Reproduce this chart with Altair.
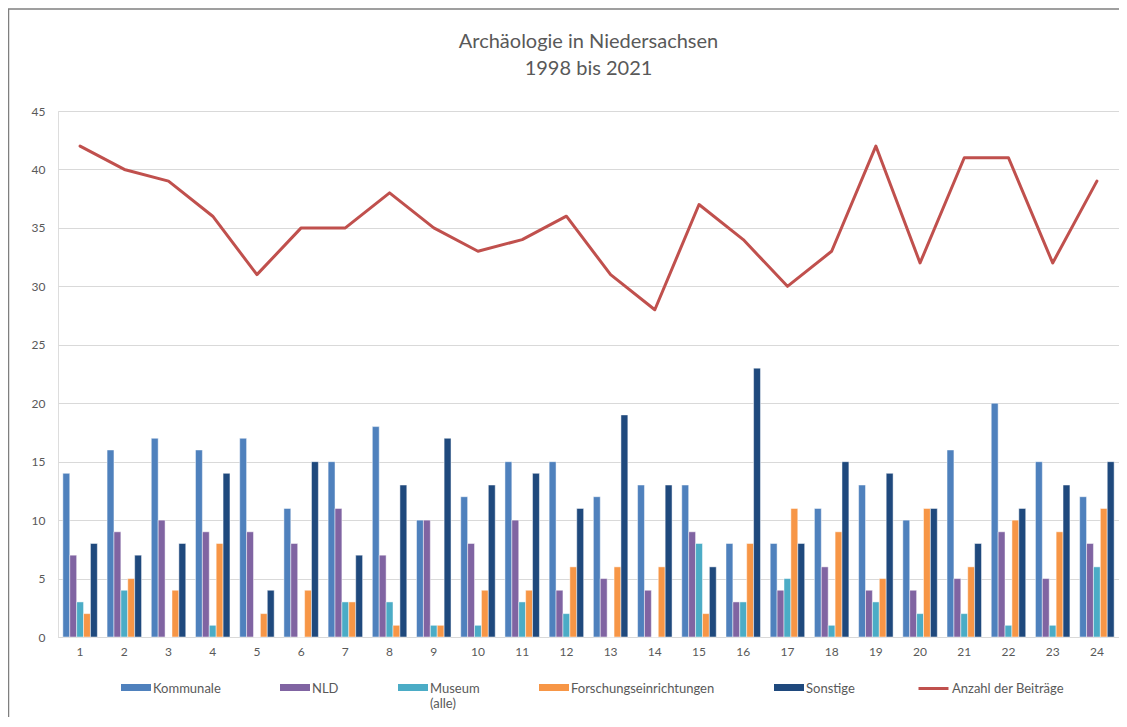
import altair as alt
import pandas as pd

# ---- data ----
jahre = [str(i) for i in range(1, 25)]
serien = ["Kommunale", "NLD", "Museum (alle)", "Forschungseinrichtungen", "Sonstige"]
kommunale = [14, 16, 17, 16, 17, 11, 15, 18, 10, 12, 15, 15, 12, 13, 13, 8, 8, 11, 13, 10, 16, 20, 15, 12]
nld = [7, 9, 10, 9, 9, 8, 11, 7, 10, 8, 10, 4, 5, 4, 9, 3, 4, 6, 4, 4, 5, 9, 5, 8]
museum = [3, 4, 0, 1, 0, 0, 3, 3, 1, 1, 3, 2, 0, 0, 8, 3, 5, 1, 3, 2, 2, 1, 1, 6]
forschung = [2, 5, 4, 8, 2, 4, 3, 1, 1, 4, 4, 6, 6, 6, 2, 8, 11, 9, 5, 11, 6, 10, 9, 11]
sonstige = [8, 7, 8, 14, 4, 15, 7, 13, 17, 13, 14, 11, 19, 13, 6, 23, 8, 15, 14, 11, 8, 11, 13, 15]
linie_name = "Anzahl der Beiträge"
beitraege = [42, 40, 39, 36, 31, 35, 35, 38, 35, 33, 34, 36, 31, 28, 37, 34, 30, 33, 42, 32, 41, 41, 32, 39]

farben = ["#4F81BD", "#8064A2", "#4BACC6", "#F79646", "#1F497D"]
linie_farbe = "#C0504D"
FONT = "Lato"
TXT = "#595959"

rows = []
for name, vals in zip(serien, [kommunale, nld, museum, forschung, sonstige]):
    for j, v in zip(jahre, vals):
        rows.append({"Jahr": j, "Serie": name, "Wert": v})
df_bars = pd.DataFrame(rows)
df_line = pd.DataFrame({"Jahr": jahre, "Anzahl": beitraege, "Linie": [linie_name] * len(jahre)})

# legend swatch: 30x7 rectangle, nudged to sit beside the first label line
RECT = "M-1,0.067H1V0.533H-1Z"

color = alt.Color(
    "Serie:N",
    scale=alt.Scale(domain=serien, range=farben),
    legend=alt.Legend(
        title=None,
        orient="none",
        legendX=63,
        legendY=557,
        direction="horizontal",
        columns=5,
        columnPadding=59,
        symbolType=RECT,
        symbolSize=900,
        symbolStrokeWidth=0,
        labelFont=FONT,
        labelFontSize=13,
        labelColor=TXT,
        labelOffset=2,
        labelBaseline="top",
        labelExpr="datum.label == 'Museum (alle)' ? ['Museum', '(alle)'] : [datum.label, '']",
    ),
)

x_enc = alt.X(
    "Jahr:O",
    sort=jahre,
    scale=alt.Scale(domain=jahre, paddingInner=0.22, paddingOuter=0.11),
    axis=alt.Axis(
        title=None, labelAngle=0, ticks=False, domainColor="#D9D9D9", domainWidth=1,
        labelFont=FONT, labelFontSize=12, labelColor=TXT, labelPadding=9, grid=False,
    ),
)
y_scale = alt.Scale(domain=[0, 45], nice=False)
y_axis = alt.Axis(
    title=None, values=list(range(0, 50, 5)), domain=False, ticks=False,
    gridColor="#D9D9D9", gridWidth=1, labelFont=FONT, labelFontSize=12,
    labelColor=TXT, labelPadding=13,
)

bars = alt.Chart(df_bars).mark_bar(stroke="white", strokeWidth=0.6, strokeOpacity=0.8).encode(
    x=x_enc,
    xOffset=alt.XOffset("Serie:N", sort=serien, scale=alt.Scale(domain=serien)),
    y=alt.Y("Wert:Q", scale=y_scale, axis=y_axis),
    color=color,
)

line = alt.Chart(df_line).mark_line(strokeWidth=3, strokeCap="round", strokeJoin="round").encode(
    x=alt.X("Jahr:O", sort=jahre),
    y=alt.Y("Anzahl:Q"),
    stroke=alt.Stroke(
        "Linie:N",
        scale=alt.Scale(domain=[linie_name], range=[linie_farbe]),
        legend=alt.Legend(
            title=None,
            orient="none",
            legendX=859,
            legendY=561,
            symbolType="stroke",
            symbolSize=900,
            symbolStrokeWidth=3,
            labelFont=FONT,
            labelFontSize=13,
            labelColor=TXT,
            labelOffset=2,
        ),
    ),
)

frame_src = pd.DataFrame({"k": [0]})
frame_left = alt.Chart(frame_src).mark_rule(color="#7F7F7F", strokeWidth=1.5).encode(
    x=alt.value(-49.5), y=alt.value(-102), y2=alt.value(640)
)
frame_top = alt.Chart(frame_src).mark_rule(color="#7F7F7F", strokeWidth=1.5).encode(
    x=alt.value(-50), x2=alt.value(1061), y=alt.value(-102)
)

chart = alt.layer(bars, line, frame_left, frame_top).properties(
    width=1061,
    height=526,
    padding={"left": 50, "top": 103, "right": 0, "bottom": 80},
    autosize=alt.AutoSizeParams(type="none"),
    title=alt.Title(
        ["Archäologie in Niedersachsen", "1998 bis 2021"],
        font=FONT, fontSize=20, fontWeight="normal", color=TXT,
        anchor="middle", baseline="bottom", offset=-91, lineHeight=27, frame="group",
    ),
).configure_view(stroke="transparent", strokeWidth=0).configure(background="white")

chart.save("out.html", embed_options={"renderer": "svg", "actions": False})
